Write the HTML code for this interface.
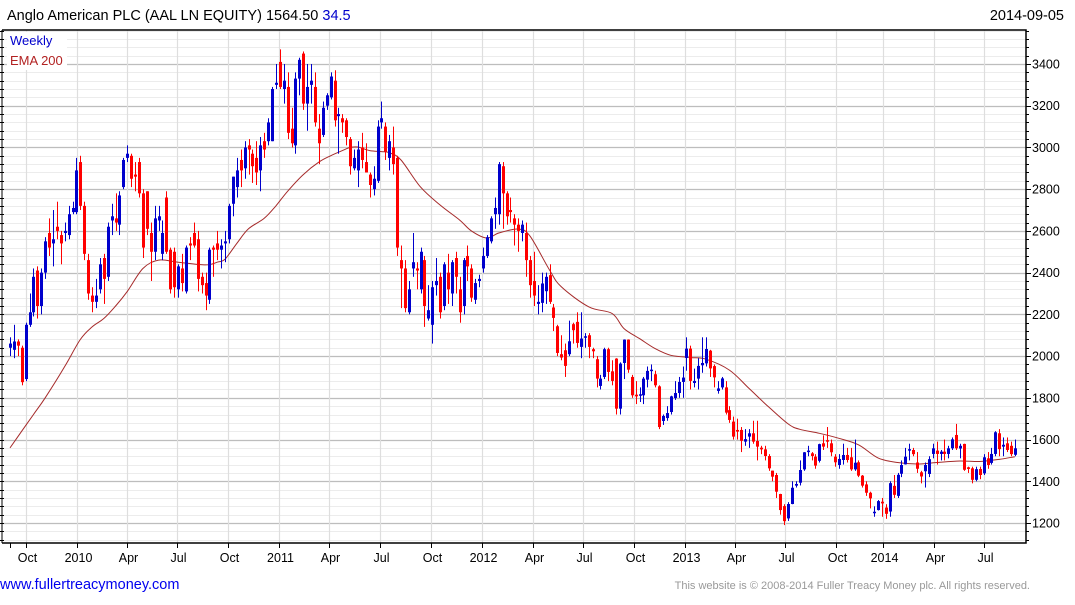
<!DOCTYPE html>
<html><head><meta charset="utf-8">
<style>
html,body{margin:0;padding:0;background:#fff;}
body{width:1075px;height:600px;overflow:hidden;font-family:"Liberation Sans",Arial,sans-serif;}
svg text{font-family:"Liberation Sans",Arial,sans-serif;}
</style></head>
<body>
<svg id="chart" width="1075" height="600" xmlns="http://www.w3.org/2000/svg">
<text x="7" y="20" font-size="14.5" fill="#000">Anglo American PLC (AAL LN EQUITY) 1564.50 <tspan fill="#0000cc">34.5</tspan></text>
<text x="1064" y="20" font-size="14.5" text-anchor="end" fill="#000">2014-09-05</text>
<g id="grid"></g>
<g id="ema"></g>
<g id="candles"></g>
<g id="axes"></g>
<rect x="7" y="32" width="60" height="38" fill="#fff"/>
<text x="10" y="45" font-size="13" fill="#0000cc">Weekly</text>
<text x="10" y="65" font-size="13" fill="#b22222">EMA 200</text>
<text x="0" y="589" font-size="14.5" fill="#0000ee">www.fullertreacymoney.com</text>
<text x="1030" y="589" font-size="11" text-anchor="end" fill="#999">This website is © 2008-2014 Fuller Treacy Money plc. All rights reserved.</text>
</svg>
<script>
const opens=[2040,2030,2070,2040,1890,2150,2210,2410,2240,2400,2590,2540,2620,2580,2590,2580,2690,2690,2930,2720,2460,2290,2260,2320,2470,2380,2650,2660,2630,2810,2950,2960,2870,2930,2780,2790,2590,2500,2650,2490,2760,2510,2500,2320,
2420,2310,2540,2590,2560,2380,2350,2270,2520,2540,2510,2540,2560,2730,2810,2940,2900,3010,2970,2950,2890,3030,3030,3030,3300,3410,3280,3290,3090,3010,3330,3450,3210,3300,3290,3090,3060,3200,3240,3320,3150,3140,3130,3040,2900,
2890,3000,2930,2870,2800,2840,3120,3100,2950,3000,2950,2460,2420,2210,2420,2420,2320,2460,2180,2150,2340,2380,2240,2400,2300,2470,2320,2240,2480,2420,2270,2360,2420,2480,2550,2680,2680,2910,2780,2700,2660,2630,2590,2590,2460,
2360,2250,2255,2311,2388,2233,2143,2009,2028,2009,2153,2164,2044,2090,2100,2033,1985,1857,1900,2033,1927,1988,1748,1967,2079,1900,1815,1812,1812,1887,1930,1913,1855,1689,1703,1732,1799,1823,1876,1991,2036,1871,1892,1956,1965,
2026,1952,1833,1850,1850,1741,1686,1646,1646,1590,1614,1630,1593,1561,1553,1521,1451,1430,1339,1281,1222,1291,1379,1393,1457,1540,1534,1518,1498,1582,1597,1582,1518,1478,1502,1526,1515,1457,1491,1427,1385,1345,1249,1262,1302,
1274,1255,1378,1330,1436,1481,1550,1550,1490,1443,1448,1435,1531,1547,1531,1542,1531,1558,1622,1557,1579,1467,1462,1407,1459,1438,1510,1488,1531,1630,1566,1582,1570,1527];
const highs=[2090,2150,2080,2050,2160,2300,2420,2430,2420,2570,2660,2700,2740,2600,2640,2720,2740,2950,2960,2740,2490,2330,2370,2470,2490,2640,2730,2780,2790,2950,3010,2970,2930,2950,2800,2790,2640,2720,2720,2650,2790,2520,2520,2440,
2490,2530,2570,2640,2600,2400,2400,2520,2530,2600,2560,2600,2730,2860,2950,2990,3030,3040,2990,3030,3050,3070,3140,3290,3400,3470,3400,3360,3190,3360,3430,3460,3400,3400,3360,3160,3220,3260,3360,3370,3190,3160,3140,3050,2990,
3030,3070,3020,2880,2910,3130,3220,3120,3060,3100,2960,2530,2460,2360,2590,2450,2520,2480,2340,2360,2470,2400,2450,2490,2460,2500,2380,2470,2530,2440,2370,2390,2520,2580,2670,2760,2930,2930,2790,2760,2680,2660,2650,2640,2480,
2500,2340,2400,2400,2440,2250,2150,2100,2060,2170,2160,2210,2210,2110,2110,2040,2000,1910,2040,2040,1980,1990,1970,2080,2080,1910,1880,1850,1900,1950,1960,1930,1860,1720,1760,1810,1880,1900,1950,2090,2050,1940,1990,2090,2090,
2030,1960,1880,1900,1880,1760,1710,1700,1660,1650,1650,1690,1690,1570,1570,1530,1450,1440,1340,1290,1300,1400,1400,1500,1540,1570,1540,1530,1580,1620,1660,1600,1530,1530,1580,1560,1560,1600,1500,1430,1400,1350,1280,1310,1320,
1290,1400,1430,1440,1500,1560,1580,1560,1540,1450,1490,1520,1580,1590,1550,1600,1570,1610,1675,1580,1580,1470,1470,1470,1470,1530,1540,1560,1640,1650,1610,1610,1590,1600];
const lows=[2000,1990,2000,1860,1880,2140,2190,2180,2200,2370,2480,2430,2560,2440,2550,2560,2680,2680,2700,2460,2270,2210,2230,2300,2250,2360,2580,2600,2580,2800,2930,2810,2790,2760,2470,2580,2360,2460,2600,2460,2490,2300,2280,2280,
2310,2300,2460,2520,2310,2300,2220,2250,2380,2460,2420,2450,2540,2670,2760,2810,2850,2870,2830,2820,2790,2950,3010,3030,3280,3280,3210,3040,3000,2970,3250,3180,3080,3210,3100,2920,3050,3180,3230,3100,2970,3070,3010,2870,2890,
2810,2900,2880,2760,2770,2830,3090,2940,2890,2870,2480,2230,2210,2200,2380,2320,2300,2140,2170,2060,2290,2180,2220,2250,2240,2300,2160,2200,2360,2260,2250,2330,2400,2470,2540,2610,2630,2610,2630,2640,2530,2500,2550,2380,2280,
2240,2200,2210,2250,2250,2120,2000,1980,1900,2000,2060,2040,1990,2040,1990,1990,1850,1840,1890,1880,1860,1720,1720,1890,1920,1800,1770,1780,1770,1850,1880,1850,1650,1670,1690,1720,1790,1800,1800,1930,1840,1850,1840,1920,1950,
1900,1850,1820,1840,1720,1680,1600,1600,1540,1570,1560,1580,1500,1530,1500,1450,1400,1320,1240,1190,1210,1290,1370,1380,1450,1520,1500,1460,1490,1550,1560,1520,1470,1460,1480,1490,1450,1450,1420,1370,1330,1270,1230,1260,1230,
1220,1230,1320,1320,1420,1480,1500,1520,1440,1390,1370,1420,1510,1480,1500,1500,1510,1550,1550,1510,1450,1440,1390,1400,1410,1430,1460,1480,1520,1520,1520,1540,1520,1520];
const closes=[2060,2070,2050,1875,2150,2210,2380,2240,2400,2550,2520,2560,2600,2540,2600,2680,2710,2890,2720,2490,2300,2260,2290,2440,2370,2620,2670,2640,2770,2940,2970,2850,2860,2780,2520,2610,2500,2660,2670,2590,2500,2320,2330,2430,
2350,2520,2530,2530,2370,2340,2290,2510,2510,2510,2530,2550,2720,2860,2890,2890,3000,2990,2910,2880,3010,2990,3120,3280,3310,3290,3320,3070,3020,3330,3420,3210,3290,3320,3120,3020,3190,3250,3340,3130,3160,3120,3050,2910,2950,
2990,2940,2880,2820,2850,3100,3140,2980,3030,2920,2520,2420,2230,2320,2450,2410,2500,2240,2220,2330,2360,2210,2440,2320,2450,2380,2210,2460,2430,2280,2350,2370,2480,2570,2660,2710,2920,2780,2670,2690,2630,2600,2630,2460,2340,
2290,2260,2348,2380,2260,2183,2015,1993,1953,2071,2124,2063,2084,2095,2044,2023,1892,1892,2033,1924,1881,1748,1964,2079,1935,1812,1807,1817,1892,1929,1935,1860,1660,1713,1727,1807,1823,1876,1897,2036,1881,1881,1953,1967,2034,
1941,1898,1845,1893,1729,1694,1614,1638,1594,1602,1630,1590,1566,1553,1521,1462,1422,1350,1262,1209,1291,1369,1387,1454,1539,1547,1521,1475,1578,1566,1590,1539,1491,1507,1526,1502,1457,1489,1427,1379,1345,1318,1254,1305,1294,
1244,1391,1335,1431,1478,1518,1554,1530,1460,1423,1478,1506,1558,1531,1542,1531,1558,1601,1558,1570,1455,1459,1407,1458,1430,1515,1478,1531,1635,1554,1575,1550,1530,1558];
const emaWeek=[0,3,6,9,14,18,21,24,27,30,34,38,43,50,53,55,58,61,65,68,71,75,79,82,85,87,89,92,95,97,100,105,110,115,118,122,125,130,133,138,141,148,154,157,161,165,169,174,178,184,189,194,199,202,207,212,217,222,227,232,237,243,248,253,257];
const emaVal=[1560,1640,1720,1800,1950,2080,2140,2180,2240,2310,2420,2460,2450,2437,2450,2465,2540,2610,2660,2720,2790,2870,2930,2960,2985,3000,3002,2985,2980,2975,2940,2810,2724,2652,2600,2566,2590,2609,2575,2412,2332,2236,2204,2132,2084,2036,2004,1993,1985,1933,1845,1757,1675,1649,1630,1606,1575,1512,1490,1483,1490,1497,1495,1505,1518];
const yTicks=[1200,1400,1600,1800,2000,2200,2400,2600,2800,3000,3200,3400];
const xTickLabels=["Oct","2010","Apr","Jul","Oct","2011","Apr","Jul","Oct","2012","Apr","Jul","Oct","2013","Apr","Jul","Oct","2014","Apr","Jul"];
const xTickWeek=[4.1,17.1,29.9,42.7,55.8,68.8,81.6,94.6,107.7,120.7,133.8,146.5,159.6,172.6,185.4,198.2,211.3,223.3,236.3,249.1];

const NS="http://www.w3.org/2000/svg";
const L=2,R=1026,T=30,B=543;
function xs(i){return 10+i*3.91;}
function ys(v){return 523-(v-1200)*0.20864;}
function mk(tag,attrs,parent){const e=document.createElementNS(NS,tag);for(const k in attrs)e.setAttribute(k,attrs[k]);parent.appendChild(e);return e;}
const grid=document.getElementById('grid'),axes=document.getElementById('axes'),cg=document.getElementById('candles'),eg=document.getElementById('ema');
for(let v=1120;v<=3560;v+=40){
  const y=Math.round(ys(v))+0.5;if(y<T||y>B)continue;
  const major=(v%200===0);
  const ln=mk('line',{x1:L,x2:R,y1:y,y2:y,stroke:major?'#bdbdbd':'#ececec','stroke-width':major?1.3:1},grid);
  
  
  const tk=mk('line',{x1:R,x2:R+(major?5:3),y1:y,y2:y,stroke:'#000'},axes);
  
  
  const lt=mk('line',{x1:L-2,x2:L+2,y1:y,y2:y,stroke:'#000'},axes);
  
  
}
yTicks.forEach(v=>{
  const t=mk('text',{x:R+6,y:ys(v)+4.5,'font-size':12.5,fill:'#000'},axes);
  t.textContent=v;
  
  
});
xTickWeek.forEach((w,k)=>{
  const x=Math.round(xs(w))+0.5;
  const g=mk('line',{x1:x,x2:x,y1:T,y2:B,stroke:'#dedede','stroke-width':1.2},grid);
  
  
  const tk=mk('line',{x1:x,x2:x,y1:B,y2:B+5,stroke:'#000'},axes);
  
  
  const t=mk('text',{x:x+1,y:B+19,'font-size':12.5,'text-anchor':'middle',fill:'#000'},axes);
  t.textContent=xTickLabels[k];
  
  
});
{const x=Math.round(xs(0))+0.5;const tk=mk('line',{x1:x,x2:x,y1:B,y2:B+5,stroke:'#000'},axes);

}
const frame=mk('path',{d:`M${L} ${B}H${R}V${T}H${L}`,fill:'none',stroke:'#000','stroke-width':1.5},axes);


const ll=mk('line',{x1:L,x2:L,y1:T,y2:B,stroke:'#000'},axes);


// EMA (smoothed through points)
const pts=emaWeek.map((w,k)=>[xs(w),ys(emaVal[k])]);
let d='M'+pts[0][0].toFixed(1)+' '+pts[0][1].toFixed(1);
for(let k=0;k<pts.length-1;k++){
  const p0=pts[Math.max(0,k-1)],p1=pts[k],p2=pts[k+1],p3=pts[Math.min(pts.length-1,k+2)];
  const c1=[p1[0]+(p2[0]-p0[0])/6,p1[1]+(p2[1]-p0[1])/6],c2=[p2[0]-(p3[0]-p1[0])/6,p2[1]-(p3[1]-p1[1])/6];
  d+=`C${c1[0].toFixed(1)} ${c1[1].toFixed(1)} ${c2[0].toFixed(1)} ${c2[1].toFixed(1)} ${p2[0].toFixed(1)} ${p2[1].toFixed(1)}`;
}
const ep=mk('path',{d:d,fill:'none',stroke:'#a52a2a','stroke-width':1},eg);


for(let i=0;i<closes.length;i++){
  const o=opens[i],c=closes[i],h=highs[i],l=lows[i];
  const col=c>=o?'#0000cc':'#ff0000';
  const x=Math.round(xs(i));
  const g=mk('g',{},cg);
  
  
  mk('rect',{x:x,y:ys(Math.max(h,o,c)),width:1,height:Math.max(1,ys(Math.min(l,o,c))-ys(Math.max(h,o,c))),fill:col},g);
  const top=ys(Math.max(o,c)),bot=ys(Math.min(o,c));
  mk('rect',{x:x-1,y:top,width:3,height:Math.max(1.5,bot-top),fill:col},g);
}
</script>
</body></html>
